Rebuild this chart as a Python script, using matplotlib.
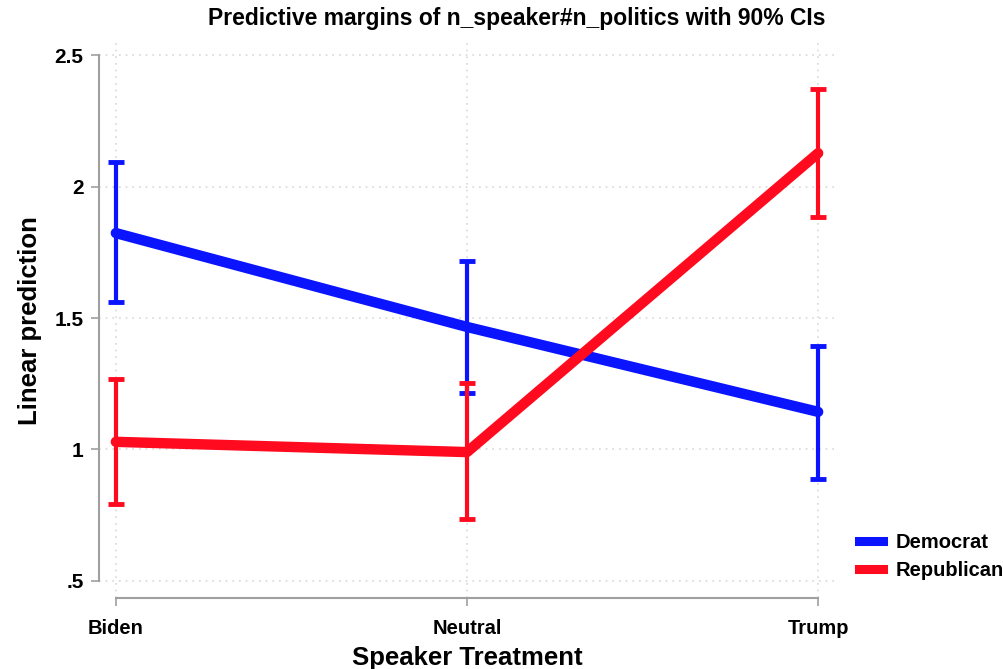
import numpy as np
import matplotlib.pyplot as plt
from matplotlib.lines import Line2D

plt.rcParams['font.family'] = ['Liberation Sans', 'DejaVu Sans']
plt.rcParams['font.weight'] = 'bold'

speakers = ['Biden', 'Neutral', 'Trump']
groups = ['Democrat', 'Republican']

dem_margin = [1.823, 1.466, 1.143]
dem_lo = [1.560, 1.213, 0.888]
dem_hi = [2.093, 1.717, 1.392]

rep_margin = [1.029, 0.990, 2.127]
rep_lo = [0.793, 0.736, 1.884]
rep_hi = [1.268, 1.253, 2.371]

yticks = [0.5, 1.0, 1.5, 2.0, 2.5]
yticklabels = ['.5', '1', '1.5', '2', '2.5']

colors = {'Democrat': '#0a14ff', 'Republican': '#ff0a1e'}

fig = plt.figure(figsize=(10.04, 6.69), dpi=100)
ax = fig.add_axes([99 / 1004, 1 - 598 / 669, (835 - 99) / 1004, (598 - 43) / 669])

x = np.arange(len(speakers))
series = [('Democrat', dem_margin, dem_lo, dem_hi),
          ('Republican', rep_margin, rep_lo, rep_hi)]

for name, m, lo, hi in series:
    c = colors[name]
    ax.plot(x, m, '-', color=c, lw=7.5, solid_capstyle='round', zorder=3)
for name, m, lo, hi in series:
    c = colors[name]
    m = np.array(m)
    err = [m - np.array(lo), np.array(hi) - m]
    ax.errorbar(x, m, yerr=err, fmt='none', ecolor=c, elinewidth=3,
                capsize=5.5, capthick=3.5, zorder=4)

ax.set_xlim(-0.048, 2.048)
ax.set_ylim(0.435, 2.546)

ax.set_xticks(x)
ax.set_xticklabels(speakers, fontsize=14.5, fontweight='bold')
ax.set_yticks(yticks)
ax.set_yticklabels(yticklabels, fontsize=15, fontweight='bold')

for s in ['top', 'right']:
    ax.spines[s].set_visible(False)
ax.spines['left'].set_bounds(0.5, 2.5)
ax.spines['bottom'].set_bounds(0, 2)
for s in ['left', 'bottom']:
    ax.spines[s].set_color('#a0a0a0')
    ax.spines[s].set_linewidth(1.5)
ax.tick_params(axis='both', color='#a0a0a0', width=1.2, length=6)
ax.tick_params(axis='x', pad=9)
ax.tick_params(axis='y', pad=5)

ax.grid(True, color='#d8d8d8', linestyle=(0, (1, 3)), linewidth=1.2, zorder=0)
ax.set_axisbelow(True)

ax.set_xlabel('Speaker Treatment', fontsize=18.5, fontweight='bold', labelpad=6)
ax.set_ylabel('Linear prediction', fontsize=18.5, fontweight='bold', labelpad=9)
fig.text(517 / 1004, 1 - 18 / 669,
         'Predictive margins of n_speaker#n_politics with 90% CIs',
         fontsize=16.5, fontweight='bold', ha='center', va='center')

handles = [Line2D([], [], color=colors[g], lw=6.5) for g in groups]
fig.legend(handles, groups, loc='upper left', bbox_to_anchor=(841 / 1004, 1 - 515 / 669),
           frameon=False, handlelength=1.2, labelspacing=0.45,
           handletextpad=0.6, prop={'weight': 'bold', 'size': 14.5})

fig.savefig('out.png', dpi=100)
